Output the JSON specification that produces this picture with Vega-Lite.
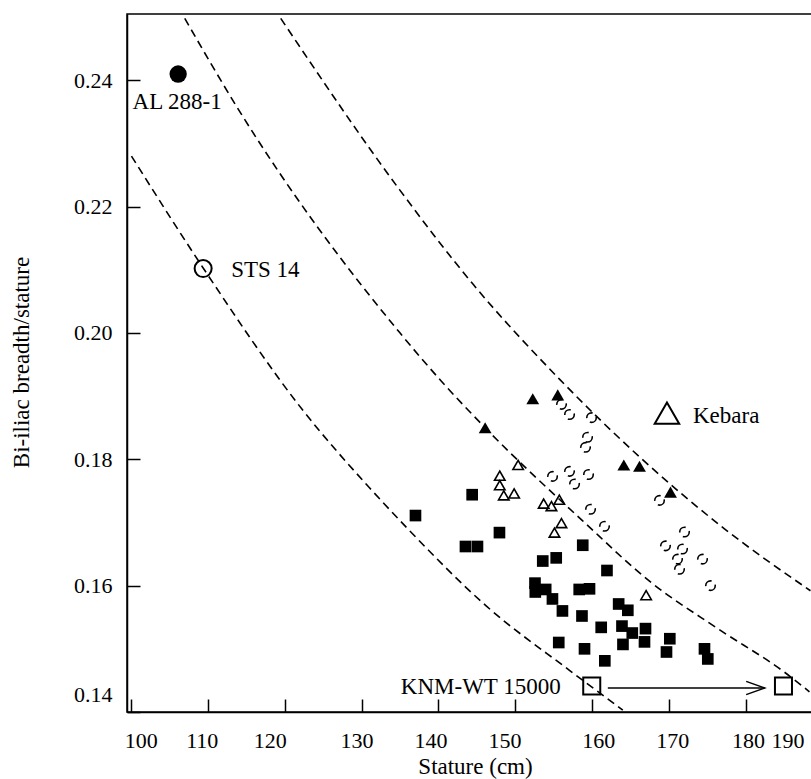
{
  "$schema": "https://vega.github.io/schema/vega-lite/v6.json",
  "width": 696,
  "height": 698,
  "autosize": "none",
  "padding": {"left": 127, "top": 14, "right": -12, "bottom": 67},
  "background": "white",
  "config": {
    "view": {"stroke": "black", "strokeWidth": 1.5},
    "axis": {
      "domainColor": "black", "domainWidth": 1.5,
      "tickColor": "black", "tickWidth": 1.5, "tickSize": -13,
      "grid": false,
      "labelFont": "Liberation Serif", "labelFontSize": 22, "labelColor": "black",
      "titleFont": "Liberation Serif", "titleFontSize": 23, "titleFontWeight": "normal", "titleColor": "black"
    }
  },
  "datasets": {
    "curves": [
      {"curve": "A", "stature": 100.08, "ratio": 0.2280},
      {"curve": "A", "stature": 109.40, "ratio": 0.2103},
      {"curve": "A", "stature": 122.41, "ratio": 0.1877},
      {"curve": "A", "stature": 131.03, "ratio": 0.1755},
      {"curve": "A", "stature": 136.01, "ratio": 0.1690},
      {"curve": "A", "stature": 146.20, "ratio": 0.1568},
      {"curve": "A", "stature": 157.03, "ratio": 0.1466},
      {"curve": "A", "stature": 163.97, "ratio": 0.1403},
      {"curve": "B", "stature": 107.01, "ratio": 0.2498},
      {"curve": "B", "stature": 113.73, "ratio": 0.2359},
      {"curve": "B", "stature": 134.93, "ratio": 0.2001},
      {"curve": "B", "stature": 140.35, "ratio": 0.1924},
      {"curve": "B", "stature": 146.07, "ratio": 0.1850},
      {"curve": "B", "stature": 158.72, "ratio": 0.1703},
      {"curve": "B", "stature": 167.66, "ratio": 0.1605},
      {"curve": "B", "stature": 176.32, "ratio": 0.1532},
      {"curve": "B", "stature": 184.99, "ratio": 0.1463},
      {"curve": "B", "stature": 188.24, "ratio": 0.1432},
      {"curve": "C", "stature": 119.49, "ratio": 0.2498},
      {"curve": "C", "stature": 134.93, "ratio": 0.2227},
      {"curve": "C", "stature": 144.51, "ratio": 0.2077},
      {"curve": "C", "stature": 155.73, "ratio": 0.1927},
      {"curve": "C", "stature": 177.19, "ratio": 0.1690},
      {"curve": "C", "stature": 188.37, "ratio": 0.1592}
    ],
    "points": [
      {"group": "filled square", "stature": 137.01, "ratio": 0.1711},
      {"group": "filled square", "stature": 144.38, "ratio": 0.1744},
      {"group": "filled square", "stature": 147.93, "ratio": 0.1684},
      {"group": "filled square", "stature": 143.51, "ratio": 0.1662},
      {"group": "filled square", "stature": 145.07, "ratio": 0.1662},
      {"group": "filled square", "stature": 153.56, "ratio": 0.1639},
      {"group": "filled square", "stature": 155.31, "ratio": 0.1644},
      {"group": "filled square", "stature": 158.76, "ratio": 0.1664},
      {"group": "filled square", "stature": 161.91, "ratio": 0.1624},
      {"group": "filled square", "stature": 152.55, "ratio": 0.1604},
      {"group": "filled square", "stature": 152.59, "ratio": 0.1590},
      {"group": "filled square", "stature": 153.94, "ratio": 0.1594},
      {"group": "filled square", "stature": 154.82, "ratio": 0.1579},
      {"group": "filled square", "stature": 156.12, "ratio": 0.1560},
      {"group": "filled square", "stature": 158.30, "ratio": 0.1594},
      {"group": "filled square", "stature": 159.64, "ratio": 0.1595},
      {"group": "filled square", "stature": 158.66, "ratio": 0.1552},
      {"group": "filled square", "stature": 161.16, "ratio": 0.1534},
      {"group": "filled square", "stature": 163.43, "ratio": 0.1571},
      {"group": "filled square", "stature": 164.62, "ratio": 0.1561},
      {"group": "filled square", "stature": 163.86, "ratio": 0.1536},
      {"group": "filled square", "stature": 165.20, "ratio": 0.1525},
      {"group": "filled square", "stature": 166.92, "ratio": 0.1532},
      {"group": "filled square", "stature": 166.79, "ratio": 0.1511},
      {"group": "filled square", "stature": 155.64, "ratio": 0.1510},
      {"group": "filled square", "stature": 158.99, "ratio": 0.1500},
      {"group": "filled square", "stature": 161.63, "ratio": 0.1481},
      {"group": "filled square", "stature": 163.99, "ratio": 0.1507},
      {"group": "filled square", "stature": 170.08, "ratio": 0.1516},
      {"group": "filled square", "stature": 169.65, "ratio": 0.1495},
      {"group": "filled square", "stature": 174.59, "ratio": 0.1500},
      {"group": "filled square", "stature": 175.02, "ratio": 0.1484},
      {"group": "filled triangle", "stature": 152.26, "ratio": 0.1896},
      {"group": "filled triangle", "stature": 155.51, "ratio": 0.1902},
      {"group": "filled triangle", "stature": 146.07, "ratio": 0.1850},
      {"group": "filled triangle", "stature": 164.10, "ratio": 0.1791},
      {"group": "filled triangle", "stature": 166.14, "ratio": 0.1789},
      {"group": "filled triangle", "stature": 170.17, "ratio": 0.1748},
      {"group": "open triangle", "stature": 150.36, "ratio": 0.1791},
      {"group": "open triangle", "stature": 147.97, "ratio": 0.1774},
      {"group": "open triangle", "stature": 147.97, "ratio": 0.1759},
      {"group": "open triangle", "stature": 148.49, "ratio": 0.1743},
      {"group": "open triangle", "stature": 149.84, "ratio": 0.1746},
      {"group": "open triangle", "stature": 153.68, "ratio": 0.1730},
      {"group": "open triangle", "stature": 154.69, "ratio": 0.1726},
      {"group": "open triangle", "stature": 155.71, "ratio": 0.1736},
      {"group": "open triangle", "stature": 155.99, "ratio": 0.1699},
      {"group": "open triangle", "stature": 155.08, "ratio": 0.1684},
      {"group": "open triangle", "stature": 167.00, "ratio": 0.1585},
      {"group": "open circle", "stature": 156.00, "ratio": 0.1887},
      {"group": "open circle", "stature": 157.04, "ratio": 0.1871},
      {"group": "open circle", "stature": 159.90, "ratio": 0.1866},
      {"group": "open circle", "stature": 159.38, "ratio": 0.1835},
      {"group": "open circle", "stature": 159.12, "ratio": 0.1819},
      {"group": "open circle", "stature": 154.83, "ratio": 0.1773},
      {"group": "open circle", "stature": 157.04, "ratio": 0.1781},
      {"group": "open circle", "stature": 159.51, "ratio": 0.1776},
      {"group": "open circle", "stature": 157.69, "ratio": 0.1761},
      {"group": "open circle", "stature": 159.77, "ratio": 0.1721},
      {"group": "open circle", "stature": 161.59, "ratio": 0.1694},
      {"group": "open circle", "stature": 168.74, "ratio": 0.1735},
      {"group": "open circle", "stature": 171.99, "ratio": 0.1685},
      {"group": "open circle", "stature": 169.52, "ratio": 0.1663},
      {"group": "open circle", "stature": 171.73, "ratio": 0.1658},
      {"group": "open circle", "stature": 171.08, "ratio": 0.1642},
      {"group": "open circle", "stature": 171.34, "ratio": 0.1626},
      {"group": "open circle", "stature": 174.33, "ratio": 0.1642},
      {"group": "open circle", "stature": 175.37, "ratio": 0.1600}
    ],
    "specimens": [
      {"name": "AL 288-1", "stature": 106.15, "ratio": 0.2410},
      {"name": "STS 14", "stature": 109.40, "ratio": 0.2102},
      {"name": "Kebara", "stature": 169.71, "ratio": 0.1873},
      {"name": "KNM-WT 15000", "stature": 159.93, "ratio": 0.1441},
      {"name": "KNM-WT 15000 adult", "stature": 184.86, "ratio": 0.1441}
    ],
    "arrow": [
      {"stature": 162.02, "stature2": 182.42, "ratio": 0.1438}
    ],
    "arrowhead": [
      {"stature": 180.01, "ratio": 0.14485, "o": 0},
      {"stature": 182.42, "ratio": 0.1438, "o": 1},
      {"stature": 180.01, "ratio": 0.14275, "o": 2}
    ]
  },
  "encoding": {
    "x": {
      "field": "stature", "type": "quantitative",
      "scale": {"domain": [99.5, 190], "nice": false, "zero": false},
      "axis": {
        "title": "Stature (cm)",
        "values": [100, 110, 120, 130, 140, 150, 160, 170, 180, 190],
        "format": "d",
        "labelFlush": true,
        "labelFlushOffset": -19,
        "labelPadding": 31,
        "labelOffset": {"condition": [
          {"test": "datum.value == 100", "value": 10},
          {"test": "datum.value == 110", "value": -6},
          {"test": "datum.value == 120", "value": -15},
          {"test": "datum.value == 130", "value": -5},
          {"test": "datum.value == 140", "value": -8},
          {"test": "datum.value == 150", "value": -11},
          {"test": "datum.value == 160", "value": 6},
          {"test": "datum.value == 170", "value": 3},
          {"test": "datum.value == 180", "value": 2}
        ], "value": 0},
        "titleX": 348, "titleY": 61.5, "titleBaseline": "alphabetic", "titleAlign": "center"
      }
    },
    "y": {
      "field": "ratio", "type": "quantitative",
      "scale": {"domain": [0.14, 0.2505], "nice": false, "zero": false},
      "axis": {
        "title": "Bi-iliac breadth/stature",
        "values": [0.14, 0.16, 0.18, 0.2, 0.22, 0.24],
        "format": ".2f",
        "labelFlush": true,
        "labelFlushOffset": -6,
        "labelPadding": 28,
        "titleAngle": -90, "titleX": -99, "titleY": 348, "titleBaseline": "alphabetic", "titleAlign": "center"
      }
    }
  },
  "layer": [
    {
      "data": {"name": "curves"},
      "mark": {"type": "line", "color": "black", "strokeWidth": 1.6, "strokeDash": [8, 5], "interpolate": "monotone"},
      "encoding": {"detail": {"field": "curve"}}
    },
    {
      "data": {"name": "points"},
      "transform": [{"filter": "datum.group == 'filled square'"}],
      "mark": {"type": "point", "shape": "square", "filled": true, "color": "black", "size": 136, "opacity": 1}
    },
    {
      "data": {"name": "points"},
      "transform": [{"filter": "datum.group == 'filled triangle'"}],
      "mark": {"type": "point", "shape": "triangle-up", "filled": true, "color": "black", "size": 165, "opacity": 1}
    },
    {
      "data": {"name": "points"},
      "transform": [{"filter": "datum.group == 'open triangle'"}],
      "mark": {"type": "point", "shape": "triangle-up", "filled": false, "color": "black", "strokeWidth": 1.6, "size": 110, "opacity": 1}
    },
    {
      "data": {"name": "points"},
      "transform": [{"filter": "datum.group == 'open circle'"}],
      "mark": {"type": "point", "shape": "circle", "filled": false, "color": "black", "strokeWidth": 1.6, "strokeDash": [9, 5], "size": 90, "opacity": 1}
    },
    {
      "data": {"name": "specimens"},
      "transform": [{"filter": "datum.name == 'AL 288-1'"}],
      "mark": {"type": "point", "shape": "circle", "filled": true, "color": "black", "size": 300, "opacity": 1}
    },
    {
      "data": {"name": "specimens"},
      "transform": [{"filter": "datum.name == 'STS 14'"}],
      "mark": {"type": "point", "shape": "circle", "filled": false, "color": "black", "strokeWidth": 2, "size": 290, "opacity": 1}
    },
    {
      "data": {"name": "specimens"},
      "transform": [{"filter": "datum.name == 'Kebara'"}],
      "mark": {"type": "point", "shape": "triangle-up", "filled": false, "color": "black", "strokeWidth": 2, "size": 600, "opacity": 1}
    },
    {
      "data": {"name": "specimens"},
      "transform": [{"filter": "indexof(datum.name, 'KNM') == 0"}],
      "mark": {"type": "point", "shape": "square", "filled": false, "color": "black", "strokeWidth": 2, "size": 290, "opacity": 1}
    },
    {
      "data": {"name": "arrow"},
      "mark": {"type": "rule", "color": "black", "strokeWidth": 1.5},
      "encoding": {"x2": {"field": "stature2"}}
    },
    {
      "data": {"name": "arrowhead"},
      "mark": {"type": "line", "color": "black", "strokeWidth": 1.5},
      "encoding": {"order": {"field": "o", "type": "quantitative"}}
    },
    {
      "data": {"name": "specimens"},
      "transform": [{"filter": "datum.name == 'AL 288-1'"}],
      "mark": {"type": "text", "font": "Liberation Serif", "fontSize": 23, "color": "black", "align": "center", "baseline": "alphabetic", "dx": -1, "dy": 35},
      "encoding": {"text": {"field": "name"}}
    },
    {
      "data": {"name": "specimens"},
      "transform": [{"filter": "datum.name == 'STS 14'"}],
      "mark": {"type": "text", "font": "Liberation Serif", "fontSize": 23, "color": "black", "align": "left", "baseline": "alphabetic", "dx": 28, "dy": 8},
      "encoding": {"text": {"field": "name"}}
    },
    {
      "data": {"name": "specimens"},
      "transform": [{"filter": "datum.name == 'Kebara'"}],
      "mark": {"type": "text", "font": "Liberation Serif", "fontSize": 23, "color": "black", "align": "left", "baseline": "alphabetic", "dx": 26, "dy": 9.5},
      "encoding": {"text": {"field": "name"}}
    },
    {
      "data": {"name": "specimens"},
      "transform": [{"filter": "datum.name == 'KNM-WT 15000'"}],
      "mark": {"type": "text", "font": "Liberation Serif", "fontSize": 23, "color": "black", "align": "right", "baseline": "alphabetic", "dx": -31, "dy": 8},
      "encoding": {"text": {"field": "name"}}
    }
  ]
}
